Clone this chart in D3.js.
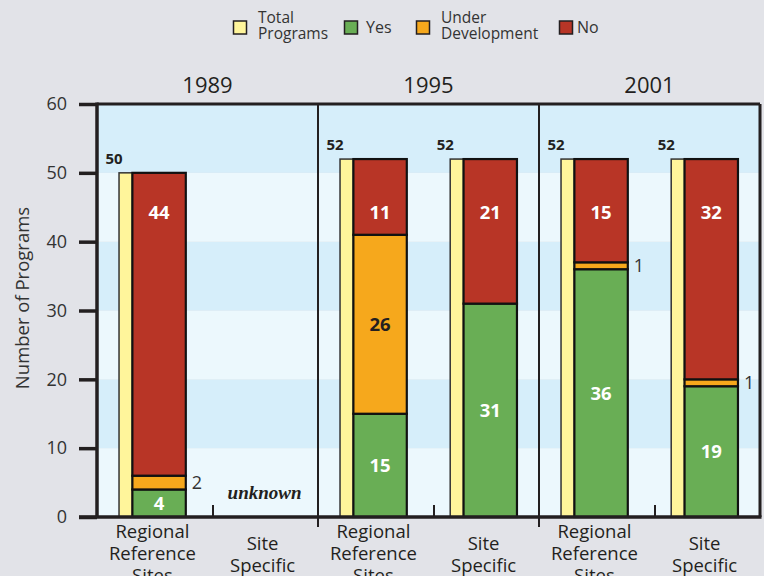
<!DOCTYPE html>
<html><head><meta charset="utf-8">
<script src="https://cdn.jsdelivr.net/npm/d3@7"></script>
<style>
html,body{margin:0;padding:0;background:#e2e3e8;}
svg{display:block;font-family:"Open Sans","Noto Sans",sans-serif;}
</style></head>
<body><svg id="c" width="764" height="576"></svg>
<script>
// ---- data ----
const years = ["1989", "1995", "2001"];
const programTypes = ["Regional Reference Sites", "Site Specific"];
const typeLines = [["Regional", "Reference", "Sites"], ["Site", "Specific"]];
// per year, [Regional, Site Specific]; null = unknown
const totalPrograms = [[50, null], [52, 52], [52, 52]];
const yesValues = [[4, null], [15, 31], [36, 19]];
const underDevValues = [[2, null], [26, 0], [1, 1]];
const noValues = [[44, null], [11, 21], [15, 32]];
const yTicks = [0, 10, 20, 30, 40, 50, 60];
const seriesNames = ["Yes", "Under Development", "No"];
const colors = {total: "#fff59b", "Yes": "#69ae55", "Under Development": "#f6a81c", "No": "#b83526"};

const svg = d3.select("#c");
const L = 97, R = 760, T = 104, B = 517;
const y = d3.scaleLinear().domain([0, 60]).range([B, T]);
const panel = d3.scaleBand().domain(years).range([L, R]);
const inner = d3.scaleBand().domain(programTypes).range([0, panel.bandwidth()])
  .paddingInner(0.394).paddingOuter(0.2);
const yellowW = inner.bandwidth() * 0.2;
const stackW = inner.bandwidth() - yellowW;

// background bands
const g0 = svg.append("g");
d3.range(0, 60, 10).forEach((v, i) => {
  g0.append("rect").attr("x", L).attr("width", R - L)
    .attr("y", y(v + 10)).attr("height", y(v) - y(v + 10))
    .attr("fill", i % 2 === 0 ? "#ecf8fd" : "#d6eefa");
});

// legend
const legendItems = [
  {key: "total", lines: ["Total", "Programs"], x: 233},
  {key: "Yes", lines: ["Yes"], x: 344},
  {key: "Under Development", lines: ["Under", "Development"], x: 416},
  {key: "No", lines: ["No"], x: 559}
];
const lg = svg.append("g");
legendItems.forEach(it => {
  lg.append("rect").attr("x", it.x + 0.5).attr("y", 21).attr("width", 13).attr("height", 13)
    .attr("fill", colors[it.key]).attr("stroke", "#231f20").attr("stroke-width", 1.5);
  const tx = it.x + (it.key === "No" ? 18 : it.key === "Yes" ? 22 : 25);
  if (it.lines.length === 1) {
    lg.append("text").attr("x", tx).attr("y", 33).attr("font-size", 16).attr("fill", "#333").text(it.lines[0]);
  } else {
    it.lines.forEach((ln, i) => lg.append("text").attr("x", tx).attr("y", 23 + i * 16)
      .attr("font-size", 15.5).attr("fill", "#333").text(ln));
  }
});

// year labels
years.forEach(yr => {
  svg.append("text").attr("x", panel(yr) + panel.bandwidth() / 2).attr("y", 93)
    .attr("text-anchor", "middle").attr("font-size", 22).attr("fill", "#231f20").text(yr);
});

// bars
const bars = svg.append("g");
years.forEach((yr, yi) => {
  programTypes.forEach((pt, pi) => {
    const x0 = panel(yr) + inner(pt);
    const tot = totalPrograms[yi][pi];
    if (tot == null) {
      bars.append("text").attr("x", x0 + inner.bandwidth() / 2 + 2).attr("y", y(2.6))
        .attr("text-anchor", "middle").attr("font-family", "Liberation Serif, serif")
        .attr("font-style", "italic").attr("font-weight", "bold").attr("font-size", 19)
        .attr("fill", "#231f20").text("unknown");
      return;
    }
    // total bar
    bars.append("rect").attr("x", x0).attr("y", y(tot)).attr("width", yellowW)
      .attr("height", y(0) - y(tot)).attr("fill", colors.total)
      .attr("stroke", "#333").attr("stroke-width", 1.5);
    bars.append("text").attr("x", x0 - 5).attr("y", y(tot) - 9).attr("text-anchor", "middle")
      .attr("font-size", 15).attr("font-weight", "bold").attr("fill", "#231f20").text(tot);
    // stacked bar
    const vals = [yesValues[yi][pi], underDevValues[yi][pi], noValues[yi][pi]];
    const sx = x0 + yellowW;
    let base = 0;
    vals.forEach((v, si) => {
      const top = base + v;
      if (v > 0) {
        bars.append("rect").attr("x", sx).attr("y", y(top)).attr("width", stackW)
          .attr("height", y(base) - y(top)).attr("fill", colors[seriesNames[si]])
          .attr("stroke", "#111").attr("stroke-width", 2.2);
        if (v >= 4) {
          const ly = si === 2 ? y(44.3) : y((base + top) / 2);
          bars.append("text").attr("x", sx + stackW / 2).attr("y", ly)
            .attr("dy", "0.36em").attr("text-anchor", "middle").attr("font-size", 18.5)
            .attr("font-weight", "bold").attr("fill", si === 1 ? "#231f20" : "#fff").text(v);
        } else {
          bars.append("text").attr("x", sx + stackW + 6).attr("y", y((base + top) / 2))
            .attr("dy", "0.36em").attr("font-size", 18).attr("fill", "#333").text(v);
        }
      }
      base = top;
    });
  });
});

// frame
const fr = svg.append("g").attr("fill", "none").attr("stroke", "#231f20");
fr.append("line").attr("x1", L).attr("x2", R).attr("y1", T).attr("y2", T).attr("stroke-width", 3);
fr.append("line").attr("x1", R).attr("x2", R).attr("y1", T).attr("y2", B).attr("stroke-width", 3);
years.slice(1).forEach(yr => {
  fr.append("line").attr("x1", panel(yr)).attr("x2", panel(yr)).attr("y1", T).attr("y2", B + 10)
    .attr("stroke-width", 2);
});
years.forEach(yr => {
  const tx = panel(yr) + panel.bandwidth() * 0.525;
  fr.append("line").attr("x1", tx).attr("x2", tx).attr("y1", B).attr("y2", B - 12).attr("stroke-width", 2);
});
fr.append("line").attr("x1", L - 18).attr("x2", R + 1.5).attr("y1", B).attr("y2", B).attr("stroke-width", 3.5);
fr.append("line").attr("x1", L).attr("x2", L).attr("y1", T - 1.5).attr("y2", B).attr("stroke-width", 3.5);

// y axis
const ax = svg.append("g").attr("transform", `translate(${L},0)`)
  .call(d3.axisLeft(y).tickValues(yTicks).tickSize(18).tickPadding(12));
ax.select(".domain").remove();
ax.selectAll(".tick line").attr("stroke", "#231f20").attr("stroke-width", 3.5);
ax.selectAll(".tick text").attr("font-size", 18).attr("fill", "#333")
  .attr("font-family", "Open Sans, sans-serif");

svg.append("text").attr("transform", `translate(29,298) rotate(-90)`).attr("text-anchor", "middle")
  .attr("font-size", 18.5).attr("fill", "#333").text("Number of Programs");

// category labels
years.forEach(yr => {
  programTypes.forEach((pt, pi) => {
    const cx = panel(yr) + inner(pt) + inner.bandwidth() / 2;
    const lines = typeLines[pi];
    const startY = lines.length === 3 ? 538 : 550;
    lines.forEach((ln, i) => svg.append("text").attr("text-anchor", "middle").attr("font-size", 18.5)
      .attr("fill", "#231f20").attr("x", cx).attr("y", startY + i * 22).text(ln));
  });
});
</script></body></html>
